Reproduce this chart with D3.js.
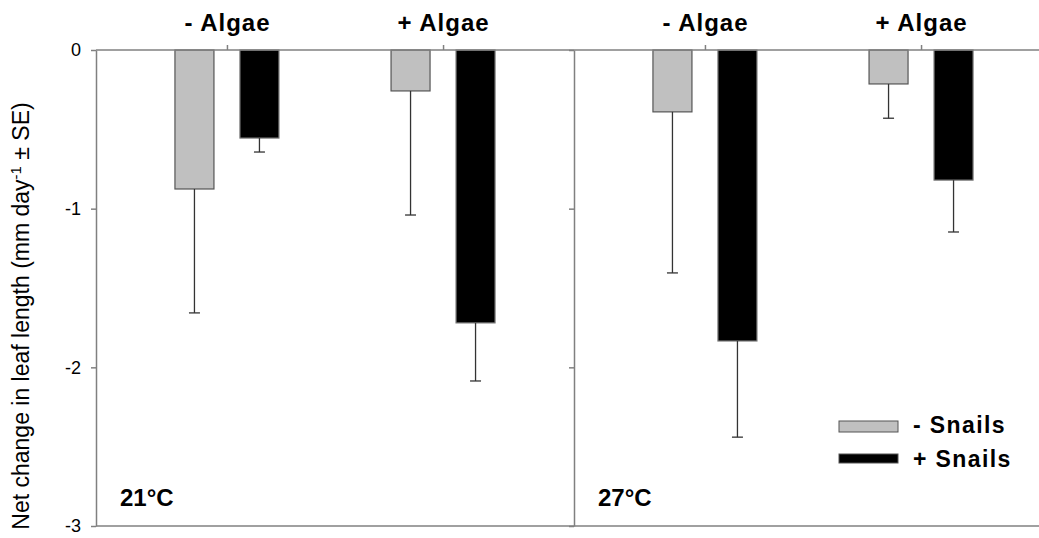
<!DOCTYPE html>
<html lang="en">
<head>
    <meta charset="UTF-8">
    <title>Net change in leaf length</title>
    <script src="https://cdn.jsdelivr.net/npm/d3@7"></script>
    <style>
        body { margin: 0; background: #fff; }
        svg { font-family: Arial, "Liberation Sans", sans-serif; }
        .axis path, .axis line {
            fill: none;
            stroke: #808080;
            stroke-width: 1.5px;
        }
        .axis text {
            font-size: 18px;
            fill: #000;
        }
        .axis.cat text {
            font-size: 24px;
            font-weight: bold;
            letter-spacing: 1px;
        }
    </style>
</head>
<body>
<script>
	// data
	var panels = ["21°C", "27°C"];
	var algae = ["- Algae", "+ Algae"];
	var snails = ["- Snails", "+ Snails"];
	// order: -Algae/-Snails, -Algae/+Snails, +Algae/-Snails, +Algae/+Snails
	var mean21 = [-0.876, -0.555, -0.258, -1.72];
	var se21 = [0.781, 0.088, 0.782, 0.366];
	var mean27 = [-0.39, -1.834, -0.214, -0.82];
	var se27 = [1.015, 0.606, 0.216, 0.327];
	var yTicks = [0, -1, -2, -3];

	var width = 1039;
	var height = 538;
	var marginLeft = 96, marginTop = 50, plotH = 476, panelW = 478;

	var svg = d3.select("body")
		.append("svg")
		.attr("width", width)
		.attr("height", height);

	var y = d3.scaleLinear().domain([0, -3]).range([marginTop, marginTop + plotH]);
	var xPanel = d3.scaleBand().domain(panels).range([marginLeft, marginLeft + 2 * panelW]);
	var xAlgae = d3.scalePoint().domain(algae).range([0, panelW]).padding(0.606);
	var xSnail = d3.scaleBand().domain(snails).range([-52, 52]).paddingInner(0.4);
	var fills = d3.scaleOrdinal().domain(snails).range(["#c0c0c0", "#000000"]);

	var rows = [];
	[mean21, mean27].forEach(function (m, p) {
		var se = p === 0 ? se21 : se27;
		m.forEach(function (v, i) {
			rows.push({
				panel: panels[p],
				algae: algae[Math.floor(i / 2)],
				snail: snails[i % 2],
				mean: v,
				se: se[i]
			});
		});
	});

	function xPos(d) {
		return xPanel(d.panel) + xAlgae(d.algae) + xSnail(d.snail);
	}

	// bars
	svg.selectAll("rect.bar")
		.data(rows)
		.enter()
		.append("rect")
		.attr("class", "bar")
		.attr("x", xPos)
		.attr("y", y(0))
		.attr("width", xSnail.bandwidth())
		.attr("height", function (d) { return y(d.mean) - y(0); })
		.attr("fill", function (d) { return fills(d.snail); })
		.attr("stroke", function (d) { return d.snail === "- Snails" ? "#555" : "#777"; })
		.attr("stroke-width", 1.2);

	// error bars (downward only)
	var err = svg.selectAll("g.err")
		.data(rows)
		.enter()
		.append("g")
		.attr("class", "err")
		.attr("stroke", "#333")
		.attr("stroke-width", 1.3);
	err.append("line")
		.attr("x1", function (d) { return xPos(d) + xSnail.bandwidth() / 2; })
		.attr("x2", function (d) { return xPos(d) + xSnail.bandwidth() / 2; })
		.attr("y1", function (d) { return y(d.mean); })
		.attr("y2", function (d) { return y(d.mean - d.se); });
	err.append("line")
		.attr("x1", function (d) { return xPos(d) + xSnail.bandwidth() / 2 - 5.5; })
		.attr("x2", function (d) { return xPos(d) + xSnail.bandwidth() / 2 + 5.5; })
		.attr("y1", function (d) { return y(d.mean - d.se); })
		.attr("y2", function (d) { return y(d.mean - d.se); });

	// y axes
	svg.append("g")
		.attr("class", "axis")
		.attr("transform", "translate(" + marginLeft + ",0)")
		.call(d3.axisLeft(y).tickValues(yTicks).tickSize(5).tickSizeOuter(0).tickPadding(10))
		.call(function (g) { g.selectAll("text").text(function (d) { return d === 0 ? "0" : "-" + Math.abs(d); }); });
	svg.append("g")
		.attr("class", "axis")
		.attr("transform", "translate(" + (marginLeft + panelW) + ",0)")
		.call(d3.axisLeft(y).tickValues(yTicks).tickSize(5).tickSizeOuter(0).tickFormat(""));

	// top and bottom lines
	svg.append("line")
		.attr("x1", marginLeft).attr("x2", width)
		.attr("y1", y(0)).attr("y2", y(0))
		.attr("stroke", "#808080").attr("stroke-width", 1.5);
	svg.append("line")
		.attr("x1", marginLeft).attr("x2", width)
		.attr("y1", y(-3)).attr("y2", y(-3))
		.attr("stroke", "#808080").attr("stroke-width", 1.5);

	// top category ticks + labels, panel labels
	panels.forEach(function (p) {
		var g = svg.append("g")
			.attr("class", "axis cat")
			.attr("transform", "translate(" + xPanel(p) + "," + y(0) + ")")
			.call(d3.axisTop(xAlgae).tickSize(5).tickSizeOuter(0));
		g.select("path").remove();
		g.selectAll("text")
			.attr("dy", "0em")
			.attr("y", -19);
		svg.append("text")
			.attr("x", xPanel(p) + 24)
			.attr("y", 506)
			.attr("font-size", "24px")
			.attr("font-weight", "bold")
			.text(p);
	});

	// y label
	var yl = svg.append("text")
		.attr("transform", "translate(29,316) rotate(-90)")
		.attr("text-anchor", "middle")
		.attr("font-size", "23px");
	yl.append("tspan").text("Net change in leaf length (mm day");
	yl.append("tspan").attr("baseline-shift", "super").attr("font-size", "15px").text("-1");
	yl.append("tspan").text(" \u00b1 SE)");

	// legend
	var legend = svg.selectAll("g.legend")
		.data(snails)
		.enter()
		.append("g")
		.attr("class", "legend")
		.attr("transform", function (d, i) { return "translate(839," + (421 + i * 33) + ")"; });
	legend.append("rect")
		.attr("width", 59)
		.attr("height", function (d, i) { return i === 0 ? 11 : 9; })
		.attr("fill", fills)
		.attr("stroke", "#555")
		.attr("stroke-width", 1);
	legend.append("text")
		.attr("x", 74)
		.attr("y", function (d, i) { return i === 0 ? 12 : 13; })
		.attr("font-size", "23px")
		.attr("font-weight", "bold")
		.attr("letter-spacing", "1.4px")
		.text(function (d) { return d; });
</script>
</body>
</html>
